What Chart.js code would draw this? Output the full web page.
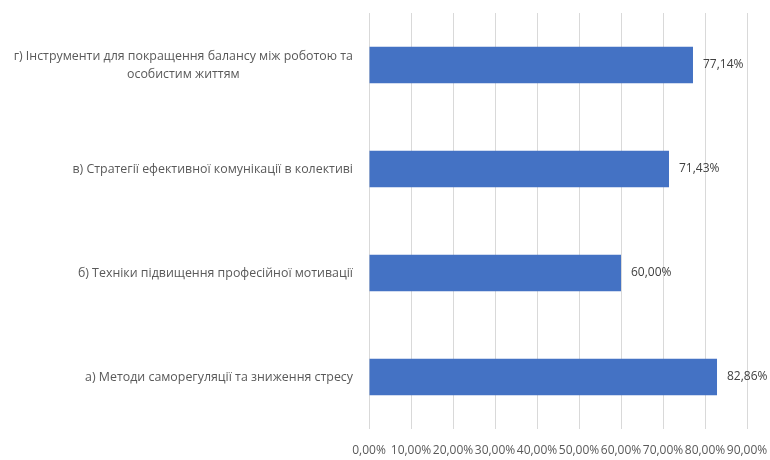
<!DOCTYPE html>
<html>
<head>
<meta charset="utf-8">
<script src="https://cdn.jsdelivr.net/npm/chart.js@4/dist/chart.umd.min.js"></script>
<style>
  html, body { margin: 0; padding: 0; background: #ffffff; }
  #wrap { width: 770px; height: 460px; }
</style>
</head>
<body>
<div id="wrap"><canvas id="chart" width="770" height="460"></canvas></div>
<script>
// Categories, listed from top to bottom
const categories = [
  ["г) Інструменти для покращення балансу між роботою та", "особистим життям"],
  ["в) Стратегії ефективної комунікації в колективі"],
  ["б) Техніки підвищення професійної мотивації"],
  ["а) Методи саморегуляції та зниження стресу"]
];
// Share of respondents, %
const shares = [77.14, 71.43, 60.00, 82.86];
// Axis range and step, %
const axisMax = 90;
const axisStep = 10;

const FONT = "'Open Sans', 'Liberation Sans', sans-serif";
const fmt = v => v.toFixed(2).replace('.', ',') + '%';

// Category labels: right-aligned block, lines centred within the block
const categoryLabels = {
  id: 'categoryLabels',
  afterDraw(chart) {
    const ctx = chart.ctx;
    const y = chart.scales.y;
    ctx.save();
    ctx.font = '12.4px ' + FONT;
    ctx.fillStyle = '#595959';
    ctx.textBaseline = 'middle';
    ctx.textAlign = 'center';
    const right = chart.chartArea.left - 16;
    const lh = 18;
    categories.forEach((lines, i) => {
      const cy = y.getPixelForValue(i);
      const w = Math.max(...lines.map(l => ctx.measureText(l).width));
      const cx = right - w / 2;
      const y0 = cy - (lines.length - 1) * lh / 2;
      lines.forEach((l, k) => ctx.fillText(l, cx, y0 + k * lh));
    });
    ctx.restore();
  }
};

// Value labels at the end of each bar
const valueLabels = {
  id: 'valueLabels',
  afterDatasetsDraw(chart) {
    const ctx = chart.ctx;
    const meta = chart.getDatasetMeta(0);
    ctx.save();
    ctx.font = '12px ' + FONT;
    ctx.fillStyle = '#404040';
    ctx.textBaseline = 'middle';
    ctx.textAlign = 'left';
    meta.data.forEach((bar, i) => {
      ctx.fillText(fmt(shares[i]), bar.x + 10, bar.y);
    });
    ctx.restore();
  }
};

new Chart(document.getElementById('chart'), {
  type: 'bar',
  data: {
    labels: categories.map(c => c.join(' ')),
    datasets: [{
      data: shares,
      backgroundColor: '#4472C4',
      borderWidth: 0,
      categoryPercentage: 1,
      barPercentage: 0.35
    }]
  },
  options: {
    indexAxis: 'y',
    responsive: false,
    animation: false,
    layout: { padding: { top: 13, right: 23, left: 0, bottom: 0 } },
    plugins: { legend: { display: false }, tooltip: { enabled: false } },
    scales: {
      x: {
        min: 0,
        max: axisMax,
        ticks: {
          stepSize: axisStep,
          autoSkip: false,
          maxRotation: 0,
          padding: 14,
          color: '#595959',
          font: { family: FONT, size: 12 },
          callback: v => fmt(v)
        },
        grid: { color: '#d9d9d9', lineWidth: 1, tickLength: 0 },
        border: { display: false },
        afterFit(scale) {
          scale.height = 31;
          scale.paddingLeft = 0;
          scale.paddingRight = 0;
        }
      },
      y: {
        ticks: { display: false },
        grid: { display: false },
        border: { display: false },
        afterFit(scale) { scale.width = 369; }
      }
    }
  },
  plugins: [categoryLabels, valueLabels]
});
</script>
</body>
</html>
